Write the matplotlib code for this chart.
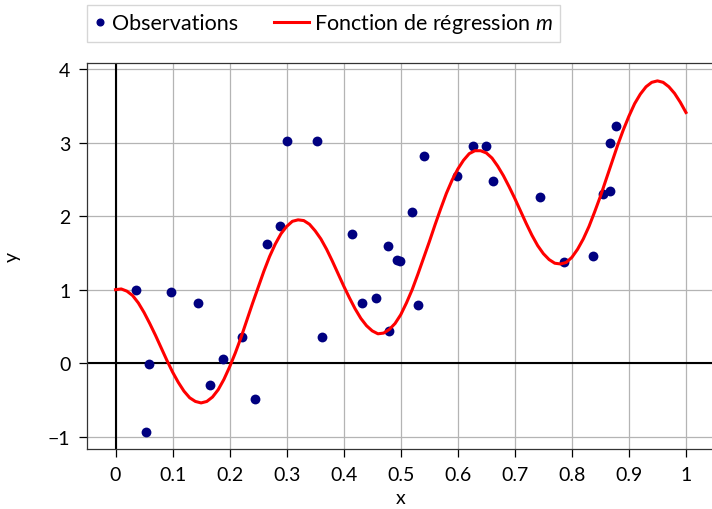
import matplotlib
matplotlib.use("Agg")
import matplotlib.pyplot as plt
from matplotlib.lines import Line2D
from matplotlib.legend_handler import HandlerBase

plt.rcParams['font.family'] = ['Lato', 'DejaVu Sans']
plt.rcParams['mathtext.fontset'] = 'custom'
plt.rcParams['mathtext.it'] = 'Lato:italic'

# Observed sample
obs_x = [0.036, 0.053, 0.059, 0.098, 0.144, 0.166, 0.188, 0.222, 0.245, 0.265,
         0.289, 0.300, 0.353, 0.362, 0.415, 0.432, 0.457, 0.478, 0.479, 0.494,
         0.498, 0.520, 0.531, 0.540, 0.599, 0.626, 0.649, 0.661, 0.744, 0.787,
         0.837, 0.854, 0.866, 0.866, 0.878]
obs_y = [1.00, -0.93, -0.01, 0.975, 0.82, -0.29, 0.06, 0.35, -0.49, 1.62,
         1.86, 3.02, 3.02, 0.36, 1.76, 0.82, 0.89, 1.60, 0.435, 1.41,
         1.39, 2.05, 0.79, 2.82, 2.54, 2.95, 2.95, 2.48, 2.26, 1.37,
         1.46, 2.30, 2.34, 2.99, 3.22]

# Regression function m, tabulated every 0.01 on [0, 1]
m_x = [i / 100 for i in range(101)]
m_y = [1.00, 1.01, 0.98, 0.92, 0.82, 0.69, 0.54, 0.38, 0.21, 0.04,
       -0.12, -0.26, -0.38, -0.47, -0.52, -0.54, -0.52, -0.46, -0.36, -0.22,
       -0.05, 0.14, 0.35, 0.58, 0.81, 1.03, 1.25, 1.45, 1.62, 1.76,
       1.86, 1.93, 1.95, 1.94, 1.89, 1.80, 1.69, 1.55, 1.39, 1.22,
       1.05, 0.89, 0.74, 0.61, 0.51, 0.44, 0.40, 0.41, 0.46, 0.54,
       0.66, 0.82, 1.00, 1.21, 1.43, 1.65, 1.88, 2.10, 2.31, 2.49,
       2.64, 2.76, 2.85, 2.89, 2.89, 2.86, 2.79, 2.68, 2.55, 2.40,
       2.24, 2.07, 1.90, 1.74, 1.60, 1.49, 1.41, 1.36, 1.35, 1.37,
       1.44, 1.55, 1.69, 1.86, 2.06, 2.27, 2.50, 2.73, 2.96, 3.17,
       3.36, 3.53, 3.66, 3.76, 3.82, 3.84, 3.82, 3.76, 3.67, 3.55,
       3.41]

x_ticks = [0, 0.1, 0.2, 0.3, 0.4, 0.5, 0.6, 0.7, 0.8, 0.9, 1]
x_tick_labels = ["0", "0.1", "0.2", "0.3", "0.4", "0.5", "0.6", "0.7", "0.8", "0.9", "1"]
y_ticks = [-1, 0, 1, 2, 3, 4]
y_tick_labels = ["\u22121", "0", "1", "2", "3", "4"]

NAVY = '#000080'
LEG_FS = 15.5


class DotHandler(HandlerBase):
    """Small filled dot centred in the handle box."""
    def create_artists(self, legend, orig_handle, xdescent, ydescent,
                       width, height, fontsize, trans):
        y = (height - ydescent) / 2
        dot = Line2D([width / 2 - xdescent], [y], marker='o', linestyle='none',
                     color=NAVY, markersize=4.8, transform=trans)
        return [dot]


class LongLineHandler(HandlerBase):
    """Line sample that reaches further left than the handle box."""
    def __init__(self, length_pt, **kw):
        super().__init__(**kw)
        self.length_pt = length_pt

    def create_artists(self, legend, orig_handle, xdescent, ydescent,
                       width, height, fontsize, trans):
        y = (height - ydescent) / 2
        x1 = width - xdescent
        ln = Line2D([x1 - self.length_pt, x1], [y, y], color='red',
                    linewidth=2.2, transform=trans)
        return [ln]


fig = plt.figure(figsize=(7.12, 5.10), dpi=100)
ax = fig.add_axes([0.1222, 0.1176, 0.8813, 0.7569])

ax.set_xlim(-0.05, 1.05)
ax.set_ylim(-1.167, 4.083)

ax.grid(True, color='#b4b4b4', linewidth=0.9)
ax.set_axisbelow(True)
ax.axvline(0, color='black', linewidth=1.5, zorder=1.5)
ax.axhline(0, color='black', linewidth=1.5, zorder=1.5)

obs = ax.scatter(obs_x, obs_y, s=50, color=NAVY, zorder=3, linewidths=0)
curve, = ax.plot(m_x, m_y, color='red', linewidth=2.2, zorder=4)

ax.set_xticks(x_ticks)
ax.set_xticklabels(x_tick_labels)
ax.set_yticks(y_ticks)
ax.set_yticklabels(y_tick_labels)
ax.tick_params(axis='both', direction='out', length=6, width=0.9,
               labelsize=14, colors='black', pad=6)
for s in ax.spines.values():
    s.set_linewidth(0.9)
    s.set_color('#333333')

ax.set_xlabel("x", fontsize=14)
ax.set_ylabel("y", fontsize=14)
ax.xaxis.set_label_coords(0.5, -0.103)
ax.yaxis.set_label_coords(-0.106, 0.5)

hl = 0.6
leg = fig.legend([obs, curve], ["Observations", "Fonction de régression $m$"],
                 handler_map={obs: DotHandler(),
                              curve: LongLineHandler(25.2)},
                 loc='upper left', bbox_to_anchor=(87 / 712, 1 - 6 / 510),
                 borderaxespad=0, ncol=2, fontsize=LEG_FS, frameon=True,
                 fancybox=False, edgecolor='#cccccc', handlelength=hl,
                 handletextpad=0.25, columnspacing=2.7, borderpad=0.3)
leg.get_frame().set_linewidth(1.0)

fig.savefig("out.png", dpi=100)
